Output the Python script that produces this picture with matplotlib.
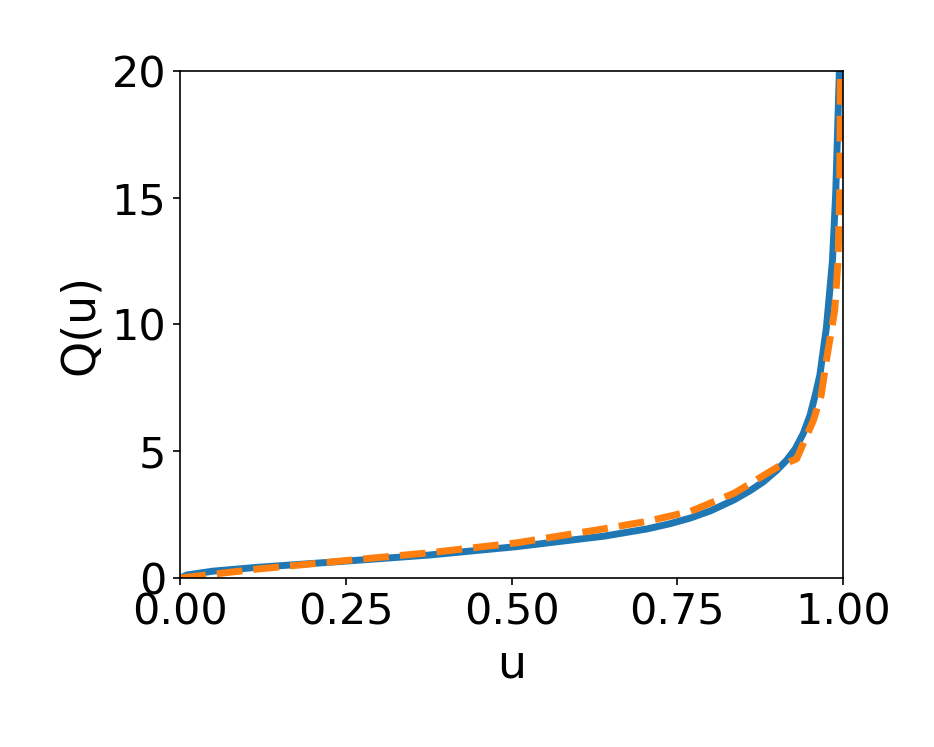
import matplotlib
matplotlib.use('Agg')
import matplotlib.pyplot as plt

# blue (solid) quantile curve
u_blue = [0.0, 0.01, 0.049, 0.115, 0.246, 0.377, 0.508, 0.639, 0.705, 0.74,
          0.77, 0.8, 0.836, 0.86, 0.88, 0.9, 0.915, 0.928, 0.94, 0.95,
          0.958, 0.965, 0.975, 0.984, 0.989, 0.992, 0.9945, 0.997]
q_blue = [0.0, 0.12, 0.27, 0.42, 0.66, 0.91, 1.24, 1.65, 1.94, 2.15,
          2.37, 2.65, 3.09, 3.45, 3.8, 4.25, 4.65, 5.1, 5.7, 6.4,
          7.2, 8.0, 9.9, 12.5, 15.2, 17.8, 20.0, 25.0]

# orange (dashed) approximation
u_orange = [0.0, 0.115, 0.246, 0.377, 0.508, 0.639, 0.705, 0.77, 0.836,
            0.902, 0.93, 0.955, 0.967, 0.975, 0.9875, 0.9925, 0.995, 0.996, 0.998]
q_orange = [0.0, 0.35, 0.68, 1.0, 1.39, 1.94, 2.24, 2.63, 3.35,
            4.39, 4.7, 6.2, 7.2, 8.6, 10.57, 12.54, 15.2, 20.0, 25.0]

fig = plt.figure(figsize=(9.34, 7.47), dpi=100)
ax = fig.add_axes([0.193, 0.2262, 0.7096, 0.6788])

ax.plot(u_blue, q_blue, color='#1f77b4', lw=5)
ax.plot(u_orange, q_orange, color='#ff7f0e', lw=5, ls='--')

ax.set_xlim(0, 1)
ax.set_ylim(0, 20)
ax.set_xticks([0, 0.25, 0.5, 0.75, 1.0])
ax.set_yticks([0, 5, 10, 15, 20])
ax.tick_params(labelsize=31, length=5, width=1.2, pad=5)
for s in ax.spines.values():
    s.set_linewidth(1.2)
ax.set_xlabel('u', fontsize=33, labelpad=6)
ax.set_ylabel('Q(u)', fontsize=33, labelpad=6)

fig.savefig('out.png', dpi=100)
